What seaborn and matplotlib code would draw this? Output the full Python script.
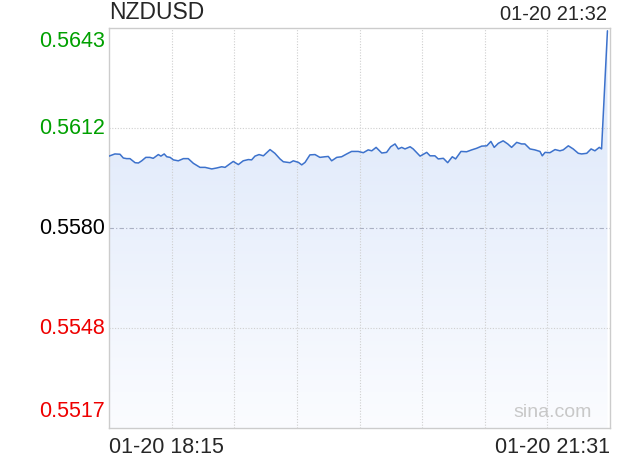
import numpy as np
import pandas as pd
import seaborn as sns
import matplotlib.pyplot as plt
from matplotlib.colors import LinearSegmentedColormap

# NZDUSD intraday, minutes after 01-20 18:15
minutes = [0.0, 2.3, 4.3, 5.6, 6.9, 8.2, 10.2, 11.5, 12.8, 14.4,
           16.0, 17.3, 19.3, 20.3, 21.6, 22.6, 23.9, 25.2, 27.1, 29.1,
           31.0, 33.0, 35.6, 37.6, 40.2, 42.1, 44.1, 45.4, 46.9, 48.6,
           50.6, 52.5, 54.5, 55.8, 57.1, 58.7, 60.4, 63.0, 64.9, 66.9,
           68.2, 70.8, 72.1, 74.1, 75.4, 76.7, 78.6, 80.6, 82.5, 84.5,
           85.8, 87.1, 89.1, 91.0, 93.0, 94.9, 97.5, 99.5, 101.4, 102.8,
           104.5, 106.7, 108.6, 110.2, 111.9, 113.2, 114.5, 115.8, 117.8, 119.0,
           121.7, 124.3, 125.6, 127.5, 128.8, 130.8, 132.5, 134.3, 135.6, 137.7,
           139.9, 141.9, 143.8, 145.8, 147.8, 149.4, 150.7, 152.3, 154.2, 156.0,
           157.5, 159.5, 161.4, 162.7, 164.7, 166.6, 168.6, 169.5, 170.6, 172.5,
           174.5, 176.4, 177.7, 179.7, 181.6, 183.6, 184.9, 186.9, 188.6, 190.1,
           191.8, 192.7, 195.0]
prices = [0.56030, 0.56037, 0.56036, 0.56024, 0.56022, 0.56022, 0.56009, 0.56008, 0.56015, 0.56026,
          0.56026, 0.56023, 0.56035, 0.56030, 0.56037, 0.56028, 0.56026, 0.56018, 0.56015, 0.56022,
          0.56022, 0.56007, 0.55994, 0.55994, 0.55989, 0.55992, 0.55996, 0.55994, 0.56003, 0.56013,
          0.56003, 0.56015, 0.56019, 0.56018, 0.56030, 0.56035, 0.56031, 0.56051, 0.56039, 0.56021,
          0.56012, 0.56009, 0.56015, 0.56010, 0.56002, 0.56010, 0.56034, 0.56035, 0.56026, 0.56028,
          0.56029, 0.56015, 0.56026, 0.56028, 0.56037, 0.56045, 0.56045, 0.56041, 0.56050, 0.56047,
          0.56058, 0.56040, 0.56042, 0.56060, 0.56069, 0.56053, 0.56058, 0.56053, 0.56060, 0.56053,
          0.56030, 0.56042, 0.56031, 0.56031, 0.56021, 0.56023, 0.56009, 0.56028, 0.56021, 0.56045,
          0.56044, 0.56050, 0.56055, 0.56062, 0.56063, 0.56077, 0.56058, 0.56071, 0.56079, 0.56069,
          0.56058, 0.56074, 0.56069, 0.56069, 0.56053, 0.56050, 0.56045, 0.56031, 0.56042, 0.56041,
          0.56051, 0.56047, 0.56050, 0.56063, 0.56053, 0.56039, 0.56037, 0.56039, 0.56053, 0.56047,
          0.56058, 0.56053, 0.56431]

y_ticks = [0.5517, 0.5548, 0.5580, 0.5612, 0.5643]
y_tick_labels = ["0.5517", "0.5548", "0.5580", "0.5612", "0.5643"]
y_tick_colors = ["#ee0000", "#ee0000", "#000000", "#00a000", "#00a000"]
y_range = (0.5516, 0.5644)
x_range = (0, 196)

symbol = "NZDUSD"
last_time = "01-20 21:32"
start_label = "01-20 18:15"
end_label = "01-20 21:31"

df = pd.DataFrame({"minute": minutes, "price": prices})

sns.set_style("white")
plt.rcParams["font.family"] = ["Liberation Sans", "DejaVu Sans"]

fig = plt.figure(figsize=(6.2, 4.6), dpi=100)
ax = fig.add_axes([109 / 620, 31 / 460, 501 / 620, 400 / 460])
ax.set_xlim(*x_range)
ax.set_ylim(*y_range)

# gradient fill under the line
fill = ax.fill_between(df["minute"], df["price"], y_range[0], color="none", lw=0)
cmap = LinearSegmentedColormap.from_list("fade", ["#fbfcff", "#d9e5f9"])
grad = np.linspace(0, 1, 256).reshape(-1, 1)
img = ax.imshow(grad, cmap=cmap, aspect="auto", origin="lower",
                extent=[x_range[0], x_range[1], y_range[0], y_range[1]], zorder=1)
img.set_clip_path(fill.get_paths()[0], transform=ax.transData)

sns.lineplot(data=df, x="minute", y="price", ax=ax, color="#3d72cc", lw=1.1, zorder=3)

# grid
for gx in np.linspace(x_range[0], x_range[1], 9)[1:-1]:
    ax.axvline(gx, color="#cfcfcf", lw=0.8, ls=(0, (1, 1.5)), zorder=2)
for gy in [y_ticks[1], y_ticks[3]]:
    ax.axhline(gy, color="#cfcfcf", lw=0.8, ls=(0, (1, 1.5)), zorder=2)
ax.axhline(y_ticks[2], color="#aab0c2", lw=0.8, ls=(0, (4, 2, 1, 2)), zorder=2)

for s in ax.spines.values():
    s.set_color("#cccccc")
    s.set_linewidth(1)

ax.set_xlabel("")
ax.set_ylabel("")
ax.set_xticks([])
ax.set_yticks([])

# y labels
for val, lab, col in zip(y_ticks, y_tick_labels, y_tick_colors):
    if val == y_ticks[-1]:
        yy, va = y_range[1] - 0.00006, "top"
    elif val == y_ticks[0]:
        yy, va = y_range[0] + 0.00022, "bottom"
    else:
        yy, va = val, "center"
    ax.text(-0.008, yy, lab, transform=ax.get_yaxis_transform(), ha="right", va=va,
            color=col, fontsize=15.5)

ax.text(0.0, 1.012, symbol, transform=ax.transAxes, ha="left", va="bottom", fontsize=16.5)
ax.text(0.995, 1.012, last_time, transform=ax.transAxes, ha="right", va="bottom", fontsize=14.5)
ax.text(0.0, -0.02, start_label, transform=ax.transAxes, ha="left", va="top", fontsize=15.5)
ax.text(1.0, -0.02, end_label, transform=ax.transAxes, ha="right", va="top", fontsize=15.5)
ax.text(0.964, 0.04, "sina.com", transform=ax.transAxes, ha="right", va="center",
        color="#c8c8c8", fontsize=14)

fig.savefig("out.png", dpi=100)
